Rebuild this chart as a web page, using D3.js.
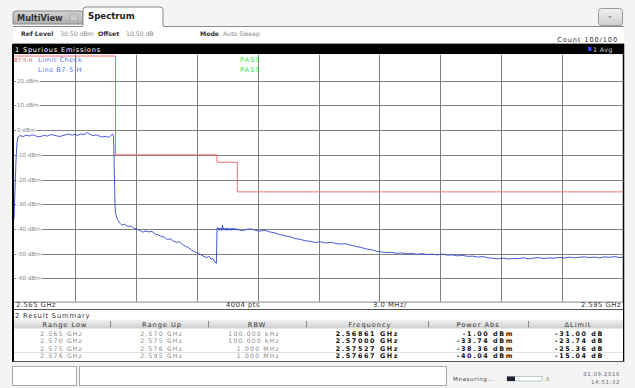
<!DOCTYPE html>
<html><head><meta charset="utf-8">
<script src="https://cdn.jsdelivr.net/npm/d3@7"></script>
<style>
html,body{margin:0;padding:0;background:#f3f3f3;}
svg{display:block;font-family:"DejaVu Sans",Verdana,sans-serif;}
</style></head>
<body><svg id="c" width="635" height="388"></svg>
<script>
// ---------------- data ----------------
const freqRange = [2.565, 2.595];           // GHz
const levelRange = [-69.5, 30.5];           // dBm (ref level 30.50 dBm, 10 dB/div)
const yTicks = [20, 10, 0, -10, -20, -30, -40, -50, -60];
const xDivisions = [2.568, 2.571, 2.574, 2.577, 2.580, 2.583, 2.586, 2.589, 2.592];
const limitLine = [[2.565,30],[2.570,30],[2.570,-10],[2.575,-10],[2.575,-13],[2.576,-13],[2.576,-25],[2.595,-25]];
const traceData = [
[2.56500,-36.0],[2.56505,-24],[2.56510,-12],[2.56515,-5],[2.56520,-2.8],[2.56530,-2.2],[2.56545,-2.6],[2.56560,-2.0],[2.56575,-2.4],[2.56590,-1.9],[2.56605,-2.3],[2.56620,-2.7],[2.56635,-2.5],[2.56650,-2.1],[2.56665,-2.4],[2.56680,-1.8],[2.56695,-2.0],[2.56710,-2.3],[2.56725,-2.6],[2.56740,-2.2],[2.56755,-1.9],[2.56770,-1.6],[2.56785,-2.0],[2.56800,-1.7],[2.56815,-2.1],[2.56830,-1.5],[2.56845,-1.8],[2.56861,-1.0],[2.56875,-1.7],[2.56890,-2.2],[2.56905,-1.9],[2.56920,-2.4],[2.56935,-2.8],[2.56950,-2.5],[2.56965,-2.9],[2.56975,-2.3],[2.56985,-1.6],[2.56990,-2.4],
[2.56993,-12],[2.56996,-24],[2.56998,-31],[2.57000,-33.7],[2.57010,-36.2],[2.57020,-37.6],[2.57030,-38.4],[2.57045,-38.1],[2.57060,-39.0],[2.57075,-38.8],[2.57090,-39.7],[2.57105,-40.0],[2.57120,-40.6],[2.57135,-41.3],[2.57150,-40.8],[2.57165,-41.2],[2.57180,-41.0],[2.57195,-42.1],[2.57210,-42.4],[2.57225,-43.0],[2.57240,-43.3],[2.57255,-44.3],[2.57270,-44.0],[2.57285,-44.9],[2.57300,-45.4],[2.57315,-45.2],[2.57330,-46.3],[2.57345,-47.0],[2.57360,-47.6],[2.57375,-48.6],[2.57390,-49.2],[2.57405,-49.8],[2.57420,-50.4],[2.57435,-51.1],[2.57450,-51.6],[2.57460,-51.0],[2.57470,-52.2],[2.57480,-52.0],[2.57490,-53.4],[2.57497,-53.9],
[2.57500,-40.1],[2.57503,-39.5],[2.57506,-40.4],[2.57509,-39.7],[2.57512,-40.5],[2.57515,-39.6],[2.57518,-40.3],[2.57521,-39.8],[2.57524,-40.6],[2.57527,-38.4],[2.57530,-40.2],[2.57533,-39.6],[2.57536,-40.5],[2.57539,-39.7],[2.57542,-40.4],[2.57545,-39.8],[2.57548,-40.6],[2.57551,-39.6],[2.57554,-40.3],[2.57557,-39.9],[2.57560,-40.5],[2.57563,-39.7],[2.57566,-40.4],[2.57569,-39.9],[2.57572,-40.6],[2.57575,-39.8],[2.57578,-40.3],[2.57581,-39.7],[2.57584,-40.5],[2.57587,-39.9],[2.57590,-40.4],[2.57593,-39.8],[2.57596,-40.5],[2.57599,-40.0],
[2.57605,-40.3],[2.57625,-40.7],[2.57645,-40.2],[2.57667,-40.0],[2.57690,-40.6],[2.57710,-40.9],[2.57735,-40.5],[2.57760,-41.2],[2.57785,-41.6],[2.57810,-42.3],[2.57835,-42.8],[2.57860,-43.2],[2.57885,-43.9],[2.57910,-44.2],[2.57935,-44.8],[2.57960,-45.0],[2.57985,-45.5],[2.58010,-45.2],[2.58035,-45.7],[2.58060,-45.4],[2.58085,-45.9],[2.58110,-46.1],[2.58135,-46.0],[2.58160,-46.6],[2.58185,-47.1],[2.58210,-47.5],[2.58235,-48.1],[2.58260,-48.4],[2.58285,-49.0],[2.58310,-49.3],[2.58335,-49.6],[2.58360,-49.5],[2.58385,-49.9],[2.58410,-49.7],[2.58435,-50.1],[2.58460,-49.9],[2.58485,-50.3],[2.58510,-50.0],[2.58535,-50.4],[2.58560,-50.2],[2.58585,-50.5],[2.58610,-50.2],[2.58635,-50.6],[2.58660,-50.5],[2.58685,-50.9],[2.58710,-50.7],[2.58735,-51.1],[2.58760,-51.0],[2.58785,-51.4],[2.58810,-51.2],[2.58835,-51.7],[2.58860,-51.9],[2.58885,-52.1],[2.58910,-51.8],[2.58935,-52.2],[2.58960,-51.9],[2.58985,-52.0],[2.59010,-51.7],[2.59035,-52.1],[2.59060,-51.8],[2.59085,-51.6],[2.59110,-52.0],[2.59135,-51.7],[2.59160,-51.9],[2.59185,-51.5],[2.59210,-51.8],[2.59235,-51.4],[2.59260,-51.7],[2.59285,-51.5],[2.59310,-51.3],[2.59335,-51.6],[2.59360,-51.4],[2.59385,-51.7],[2.59410,-51.3],[2.59435,-51.5],[2.59460,-51.2],[2.59485,-51.6],[2.59500,-51.4]
];
const tableHeaders = ["Range Low","Range Up","RBW","Frequency","Power Abs","\u0394Limit"];
const rangeLow = ["2.565 GHz","2.570 GHz","2.575 GHz","2.576 GHz"];
const rangeUp = ["2.570 GHz","2.575 GHz","2.576 GHz","2.595 GHz"];
const rbw = ["100.000 kHz","100.000 kHz","1.000 MHz","1.000 MHz"];
const peakFreq = ["2.56861 GHz","2.57000 GHz","2.57527 GHz","2.57667 GHz"];
const powerAbs = ["-1.00 dBm","-33.74 dBm","-38.36 dBm","-40.04 dBm"];
const deltaLimit = ["-31.00 dB","-23.74 dB","-25.36 dB","-15.04 dB"];

// ---------------- drawing ----------------
const svg = d3.select("#c");
const X0 = 14, X1 = 623, Y0 = 54.8, Y1 = 301.8;
const x = d3.scaleLinear().domain(freqRange).range([X0, X1]);
const y = d3.scaleLinear().domain(levelRange).range([Y1, Y0]);

const defs = svg.append("defs");
const g1 = defs.append("linearGradient").attr("id","hdr").attr("x1",0).attr("x2",0).attr("y1",0).attr("y2",1);
g1.append("stop").attr("offset","0").attr("stop-color","#f2f2f2");
g1.append("stop").attr("offset","1").attr("stop-color","#cfcfcf");
const g2 = defs.append("linearGradient").attr("id","tabg").attr("x1",0).attr("x2",0).attr("y1",0).attr("y2",1);
g2.append("stop").attr("offset","0").attr("stop-color","#d4d4d4");
g2.append("stop").attr("offset","1").attr("stop-color","#afafaf");

// background
svg.append("rect").attr("width",635).attr("height",388).attr("fill","#f4f4f4");

// tabs
svg.append("path").attr("d","M13,24 L13,14 Q13,11 16,11 L80,11 Q83,11 83,14 L83,24 Z")
  .attr("fill","url(#tabg)").attr("stroke","#8a8a8a");
svg.append("text").attr("x",17).attr("y",21).attr("font-size",8.2).attr("font-weight","bold").attr("fill","#333").text("MultiView");
svg.append("rect").attr("x",70).attr("y",14).attr("width",8).attr("height",7).attr("fill","#c9c9c9").attr("stroke","#9a9a9a").attr("stroke-width",0.6);
svg.append("path").attr("d","M83,26 L83,10 Q83,7 86,7 L160,7 Q163,7 163,10 L163,26")
  .attr("fill","#ffffff").attr("stroke","#8a8a8a");
svg.append("text").attr("x",88).attr("y",19).attr("font-size",8.6).attr("font-weight","bold").attr("fill","#222").text("Spectrum");
// top right button
svg.append("rect").attr("x",598.5).attr("y",8.5).attr("width",24).attr("height",17).attr("rx",3)
  .attr("fill","url(#hdr)").attr("stroke","#9a9a9a");
svg.append("path").attr("d","M608,16 L612,16 L610,18.5 Z").attr("fill","#999");

// info row
svg.append("rect").attr("x",13).attr("y",26).attr("width",611).attr("height",17).attr("fill","#ffffff");
svg.append("line").attr("x1",163).attr("x2",624).attr("y1",26.5).attr("y2",26.5).attr("stroke","#8a8a8a");
svg.append("line").attr("x1",13).attr("x2",83).attr("y1",26.5).attr("y2",26.5).attr("stroke","#8a8a8a");
svg.append("line").attr("x1",13).attr("x2",624).attr("y1",43.5).attr("y2",43.5).attr("stroke","#9a9a9a");
const info = svg.append("g").attr("font-size",6.2);
[[21,"Ref Level",true],[60,"30.50 dBm",false],[98,"Offset",true],[126,"10.50 dB",false],[200,"Mode",true],[223,"Auto Sweep",false]]
  .forEach(d=>info.append("text").attr("x",d[0]).attr("y",35.5).attr("font-weight",d[2]?"bold":"normal")
    .attr("fill",d[2]?"#333":"#888").text(d[1]));
svg.append("text").attr("x",618).attr("y",41.5).attr("text-anchor","end").attr("font-size",6.6).attr("letter-spacing",0.9).attr("fill","#333").text("Count 100/100");

// title bar
svg.append("rect").attr("x",13).attr("y",44).attr("width",611).attr("height",10).attr("fill","#000");
svg.append("text").attr("x",15).attr("y",51.8).attr("font-size",6.6).attr("letter-spacing",0.8).attr("fill","#fff").text("1 Spurious Emissions");
svg.append("rect").attr("x",588).attr("y",47).attr("width",3.5).attr("height",4).attr("fill","#3344ff");
svg.append("text").attr("x",593).attr("y",51.8).attr("font-size",6.3).attr("letter-spacing",0.4).attr("fill","#ddd").text("1 Avg");

// plot area
svg.append("rect").attr("x",X0).attr("y",Y0).attr("width",X1-X0).attr("height",Y1-Y0).attr("fill","#fff");
const grid = svg.append("g").attr("stroke","#808080").attr("stroke-width",1);
grid.selectAll("line.v").data(xDivisions).join("line").attr("class","v")
  .attr("x1",d=>Math.round(x(d))+0.5).attr("x2",d=>Math.round(x(d))+0.5).attr("y1",Y0).attr("y2",Y1);
grid.selectAll("line.h").data(yTicks).join("line").attr("class","h")
  .attr("x1",X0).attr("x2",X1).attr("y1",d=>Math.round(y(d))+0.5).attr("y2",d=>Math.round(y(d))+0.5);
svg.append("g").selectAll("text").data(yTicks).join("text")
  .attr("x",17).attr("y",d=>y(d)+2).attr("font-size",5.6).attr("fill","#888")
  .attr("stroke","#fff").attr("stroke-width",2.5).attr("paint-order","stroke")
  .text(d=>d+" dBm");

// limit line
const line = d3.line().x(d=>x(d[0])).y(d=>y(d[1]));
svg.append("path").datum(limitLine).attr("d",line).attr("fill","none").attr("stroke","#f07070").attr("stroke-width",1);

// trace
svg.append("path").datum(traceData).attr("d",line).attr("fill","none").attr("stroke","#3246d6").attr("stroke-width",0.9).attr("stroke-linejoin","round");

// legend texts
svg.append("text").attr("x",14).attr("y",62).attr("font-size",5.4).attr("fill","#e06060").text("B7-5-H");
svg.append("text").attr("x",38).attr("y",62).attr("font-size",6.6).attr("letter-spacing",0.5).attr("fill","#5577ee").text("Limit Check");
svg.append("text").attr("x",38).attr("y",71.5).attr("font-size",6.6).attr("letter-spacing",0.5).attr("fill","#5577ee").text("Line B7-5-H");
svg.append("text").attr("x",240).attr("y",62).attr("font-size",6.6).attr("letter-spacing",1).attr("fill","#33dd44").text("PASS");
svg.append("text").attr("x",240).attr("y",71.5).attr("font-size",6.6).attr("letter-spacing",1).attr("fill","#33dd44").text("PASS");

// plot frame
svg.append("line").attr("x1",13).attr("x2",13).attr("y1",44).attr("y2",362).attr("stroke","#000").attr("stroke-width",2);
svg.append("line").attr("x1",623.5).attr("x2",623.5).attr("y1",44).attr("y2",362).attr("stroke","#000").attr("stroke-width",1.5);

// bottom label row
svg.append("rect").attr("x",14).attr("y",Y1).attr("width",X1-X0).attr("height",8).attr("fill","#fff");
svg.append("line").attr("x1",14).attr("x2",623).attr("y1",Y1+0.3).attr("y2",Y1+0.3).attr("stroke","#888");
const lab = svg.append("g").attr("font-size",6.8).attr("letter-spacing",0.5).attr("fill","#333");
lab.append("text").attr("x",16).attr("y",307).text("2.565 GHz");
lab.append("text").attr("x",226).attr("y",307).text("4004 pts");
lab.append("text").attr("x",373).attr("y",307).text("3.0 MHz/");
lab.append("text").attr("x",621).attr("y",307).attr("text-anchor","end").text("2.595 GHz");

// result summary
svg.append("rect").attr("x",14).attr("y",310).attr("width",609).attr("height",52).attr("fill","#fff");
svg.append("line").attr("x1",14).attr("x2",623).attr("y1",309.5).attr("y2",309.5).attr("stroke","#555");
svg.append("text").attr("x",15).attr("y",317.5).attr("font-size",6.8).attr("letter-spacing",0.8).attr("fill","#333").text("2 Result Summary");
svg.append("rect").attr("x",14).attr("y",319.5).attr("width",609).attr("height",9).attr("fill","url(#hdr)");
const colCenters = [65,162,257,370,478,578];
const colSeps = [110,208,306,428,528];
svg.append("g").selectAll("line").data(colSeps).join("line")
  .attr("x1",d=>d+0.5).attr("x2",d=>d+0.5).attr("y1",321).attr("y2",327.5).attr("stroke","#888");
svg.append("g").selectAll("text").data(tableHeaders).join("text")
  .attr("x",(d,i)=>colCenters[i]).attr("y",326.5).attr("text-anchor","middle")
  .attr("font-size",6.6).attr("letter-spacing",1).attr("fill","#333").text(d=>d);
const rowY = [335.5, 343, 350.5, 358];
const plainCols = [[rangeLow,83],[rangeUp,183],[rbw,280]];
plainCols.forEach(c=>{
  svg.append("g").selectAll("text").data(c[0]).join("text")
    .attr("x",c[1]).attr("y",(d,i)=>rowY[i]).attr("text-anchor","end")
    .attr("font-size",6.1).attr("letter-spacing",1.2).attr("fill","#8a8a8a").text(d=>d);
});
const boldCols = [[peakFreq,399],[powerAbs,514],[deltaLimit,604]];
boldCols.forEach(c=>{
  svg.append("g").selectAll("text").data(c[0]).join("text")
    .attr("x",c[1]).attr("y",(d,i)=>rowY[i]).attr("text-anchor","end")
    .attr("font-size",6.4).attr("font-weight","bold").attr("letter-spacing",1.6).attr("fill","#111").text(d=>d);
});
svg.append("line").attr("x1",14).attr("x2",623).attr("y1",352.5).attr("y2",352.5).attr("stroke","#e2e2e2");
svg.append("line").attr("x1",13).attr("x2",624).attr("y1",361.5).attr("y2",361.5).attr("stroke","#555");

// status bar
svg.append("rect").attr("x",12.5).attr("y",366.5).attr("width",64).attr("height",19).attr("fill","#fff").attr("stroke","#aaa");
svg.append("rect").attr("x",79.5).attr("y",366.5).attr("width",367).attr("height",19).attr("fill","#fff").attr("stroke","#aaa");
svg.append("text").attr("x",453).attr("y",380.5).attr("font-size",5.6).attr("letter-spacing",0.6).attr("fill","#444").text("Measuring...");
svg.append("rect").attr("x",507).attr("y",376.5).attr("width",35).attr("height",4.5).attr("fill","#fff").attr("stroke","#9aa").attr("stroke-width",0.6);
svg.append("rect").attr("x",507).attr("y",376.5).attr("width",8).attr("height",4.5).attr("fill","#223");
svg.append("text").attr("x",545).attr("y",381).attr("font-size",5.6).attr("font-weight","bold").attr("fill","#6a9a3a").text("\u2693");
svg.append("text").attr("x",620).attr("y",376).attr("text-anchor","end").attr("font-size",5.4).attr("letter-spacing",0.6).attr("fill","#667").text("01.09.2016");
svg.append("text").attr("x",620).attr("y",384).attr("text-anchor","end").attr("font-size",5.4).attr("letter-spacing",0.6).attr("fill","#667").text("14:51:32");
</script></body></html>
